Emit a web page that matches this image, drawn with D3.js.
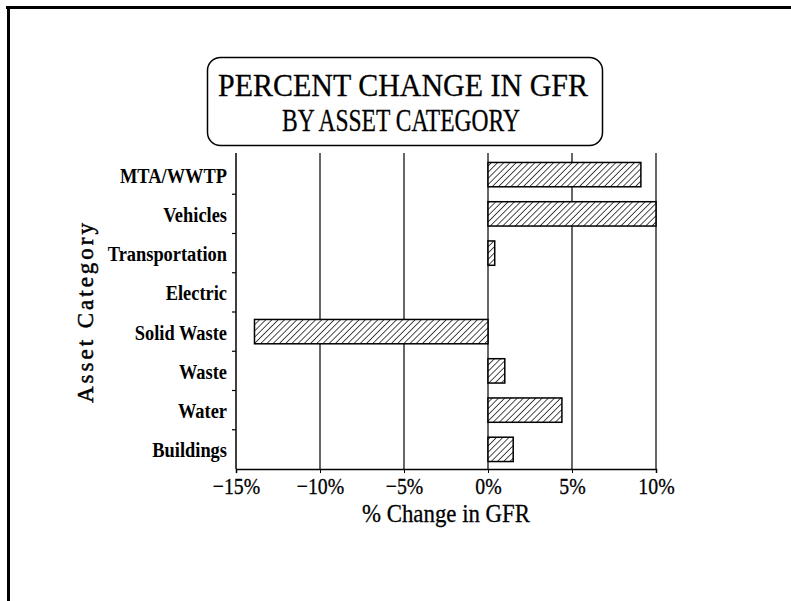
<!DOCTYPE html>
<html>
<head>
<meta charset="utf-8">
<script src="https://cdn.jsdelivr.net/npm/d3@7"></script>
<style>
  html, body { margin: 0; padding: 0; background: #fff; }
  svg { display: block; }
</style>
</head>
<body>
<svg id="chart" width="791" height="601"></svg>
<script>
// Asset categories, top to bottom
const categories = ["MTA/WWTP", "Vehicles", "Transportation", "Electric",
                    "Solid Waste", "Waste", "Water", "Buildings"];
// Percent change in GFR per category
const pctChange = [9.1, 10.0, 0.4, 0, -13.9, 1.0, 4.4, 1.5];
// X axis ticks (percent)
const xTicks = [-15, -10, -5, 0, 5, 10];
const titleLines = ["PERCENT CHANGE IN GFR", "BY ASSET CATEGORY"];

const svg = d3.select("#chart");
const serif = "'Liberation Serif', 'Times New Roman', serif";

// squeeze a text selection horizontally to a fraction of its natural width
function condense(sel, factor) {
  sel.each(function () {
    const w = this.getComputedTextLength();
    d3.select(this).attr("textLength", w * factor).attr("lengthAdjust", "spacingAndGlyphs");
  });
}

// page frame (top and left rules)
svg.append("line").attr("x1", 6).attr("x2", 791).attr("y1", 7.5).attr("y2", 7.5)
  .attr("stroke", "#000").attr("stroke-width", 3);
svg.append("line").attr("x1", 8.5).attr("x2", 8.5).attr("y1", 6).attr("y2", 601)
  .attr("stroke", "#000").attr("stroke-width", 3);

// hatch pattern for the bars
const defs = svg.append("defs");
const pat = defs.append("pattern").attr("id", "hatch")
  .attr("patternUnits", "userSpaceOnUse").attr("width", 4.4).attr("height", 4.4)
  .attr("patternTransform", "rotate(45)");
pat.append("rect").attr("width", 4.4).attr("height", 4.4).attr("fill", "#fff");
pat.append("line").attr("x1", 0).attr("x2", 0).attr("y1", 0).attr("y2", 4.4)
  .attr("stroke", "#000").attr("stroke-width", 1.4);

// title box
svg.append("rect").attr("x", 207.5).attr("y", 57.5).attr("width", 395).attr("height", 88)
  .attr("rx", 13).attr("ry", 13).attr("fill", "#fff")
  .attr("stroke", "#000").attr("stroke-width", 1.5);
svg.append("text").attr("x", 403).attr("y", 96).attr("text-anchor", "middle")
  .attr("font-family", serif).attr("font-size", 32)
  .attr("stroke", "#000").attr("stroke-width", 0.3)
  .attr("textLength", 370).attr("lengthAdjust", "spacingAndGlyphs")
  .text(titleLines[0]);
svg.append("text").attr("x", 401).attr("y", 131).attr("text-anchor", "middle")
  .attr("font-family", serif).attr("font-size", 31)
  .attr("stroke", "#000").attr("stroke-width", 0.3)
  .attr("textLength", 238).attr("lengthAdjust", "spacingAndGlyphs")
  .text(titleLines[1]);

// scales
const plotTop = 155, plotBottom = 469;
const x = d3.scaleLinear().domain([-15, 10]).range([236, 656]);
const y = d3.scaleBand().domain(categories).range([plotTop, plotBottom])
  .paddingInner(0.38).paddingOuter(0.19);

// vertical grid lines
svg.append("g").selectAll("line").data(xTicks.slice(1)).join("line")
  .attr("x1", d => x(d)).attr("x2", d => x(d))
  .attr("y1", 153).attr("y2", plotBottom)
  .attr("stroke", "#000").attr("stroke-width", 1.2);

// bars
svg.append("g").selectAll("rect").data(categories).join("rect")
  .attr("x", (c, i) => x(Math.min(0, pctChange[i])))
  .attr("width", (c, i) => Math.abs(x(pctChange[i]) - x(0)))
  .attr("y", c => y(c))
  .attr("height", y.bandwidth())
  .attr("fill", "url(#hatch)")
  .attr("stroke", "#000").attr("stroke-width", 1.5);

// x axis
const xAxis = svg.append("g").attr("transform", `translate(0,${plotBottom})`)
  .call(d3.axisBottom(x).tickValues(xTicks).tickSize(4).tickPadding(5)
    .tickFormat(d => (d < 0 ? "\u2212" : "") + Math.abs(d) + "%"));
xAxis.select(".domain").attr("stroke-width", 1.5);
xAxis.selectAll("text").attr("font-family", serif).attr("font-size", 23)
  .attr("fill", "#000").attr("stroke", "#000").attr("stroke-width", 0.3)
  .call(condense, 0.86);

// y axis: line with ticks between categories
svg.append("line").attr("x1", 236).attr("x2", 236).attr("y1", 153).attr("y2", plotBottom)
  .attr("stroke", "#000").attr("stroke-width", 1.5);
svg.append("g").selectAll("line").data(categories.slice(1)).join("line")
  .attr("x1", 232).attr("x2", 236)
  .attr("y1", c => y(c) - y.step() * y.paddingInner() / 2)
  .attr("y2", c => y(c) - y.step() * y.paddingInner() / 2)
  .attr("stroke", "#000").attr("stroke-width", 1.2);
svg.append("g").selectAll("text").data(categories).join("text")
  .attr("x", 227).attr("y", c => y(c) + y.bandwidth() / 2 + 8)
  .attr("text-anchor", "end")
  .attr("font-family", serif).attr("font-weight", "bold").attr("font-size", 20)
  .text(c => c)
  .call(condense, 0.92);

// axis titles
svg.append("text").attr("x", 446).attr("y", 522).attr("text-anchor", "middle")
  .attr("font-family", serif).attr("font-size", 26)
  .attr("stroke", "#000").attr("stroke-width", 0.3)
  .attr("textLength", 168).attr("lengthAdjust", "spacingAndGlyphs")
  .text("% Change in GFR");
svg.append("text").attr("transform", "translate(93,313) rotate(-90)")
  .attr("text-anchor", "middle")
  .attr("font-family", serif).attr("font-size", 23)
  .attr("stroke", "#000").attr("stroke-width", 0.5)
  .attr("textLength", 180).attr("lengthAdjust", "spacing")
  .text("Asset Category");
</script>
</body>
</html>
